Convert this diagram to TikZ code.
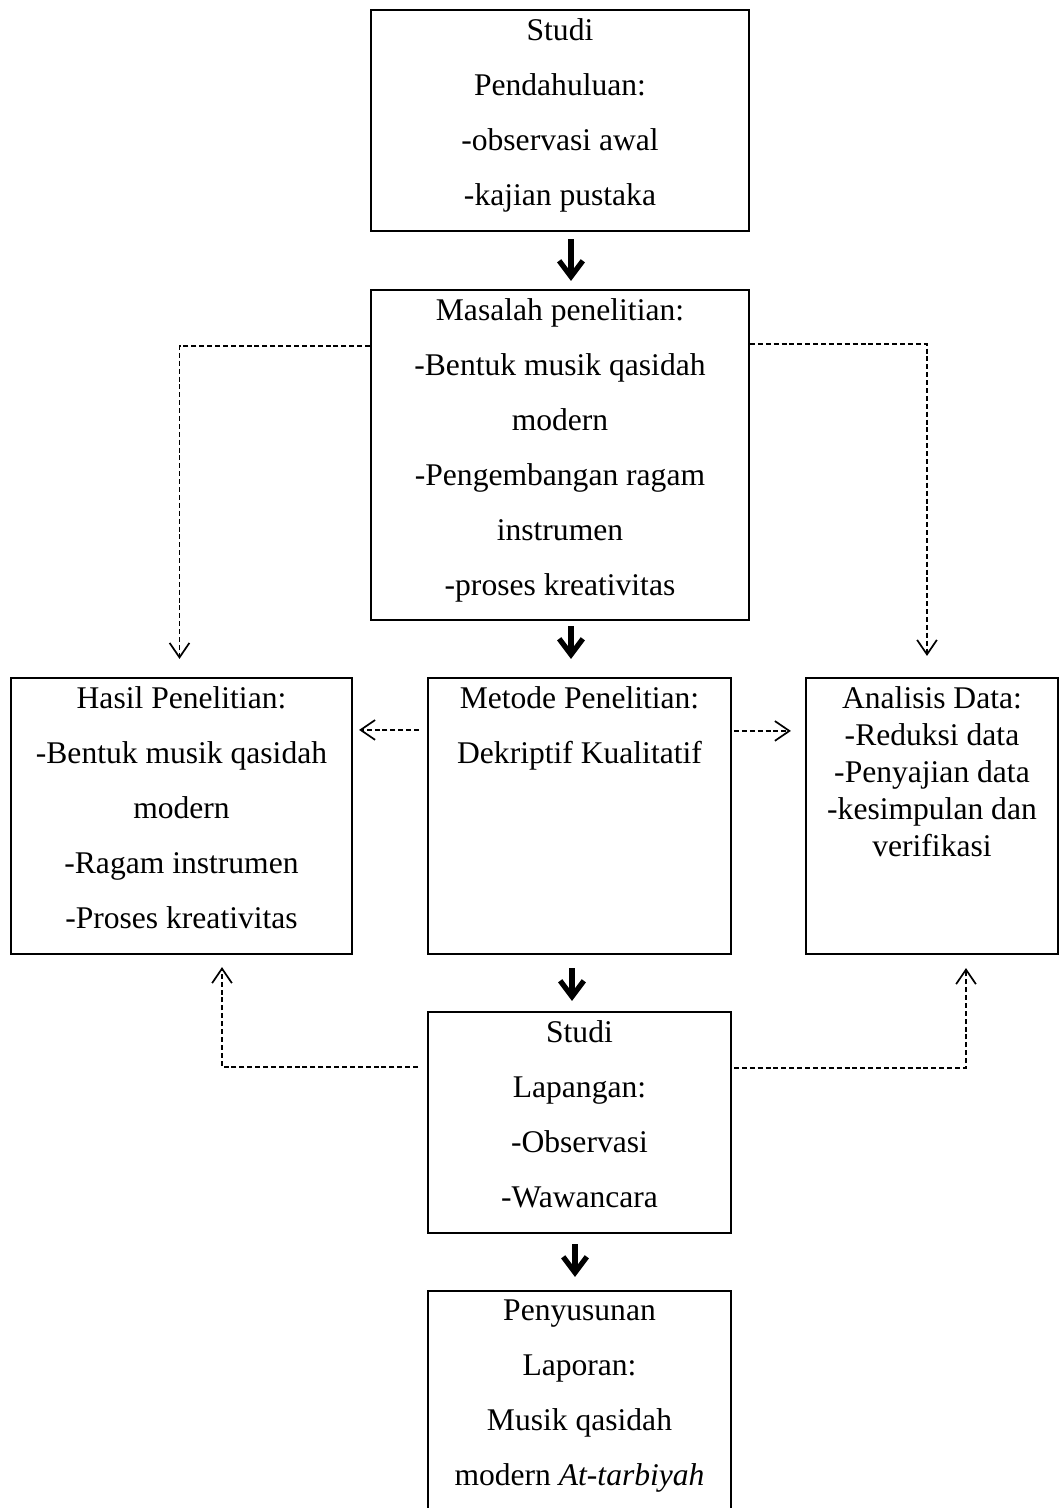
\documentclass[tikz,border=0pt]{standalone}
\usepackage{fontspec}
\setmainfont{Liberation Serif}
\usetikzlibrary{arrows.meta,positioning}
\tikzset{
    box/.style={draw, line width=0.8pt, inner sep=0pt},
    txt/.style={align=center, inner sep=0pt, font=\fontsize{12}{20.9}\selectfont},
    txtsmall/.style={align=center, inner sep=0pt, font=\fontsize{12}{14.06}\selectfont},
    bigarrow/.style={line width=2pt, -{Straight Barb[length=6pt, width=9pt]}},
    dasharrow/.style={line width=0.65pt, dash pattern=on 1.9pt off 1.1pt, -{Straight Barb[length=5.5pt, width=7.5pt]}}
}

\begin{document}
\begin{tikzpicture}[x=0.38pt, y=-0.38pt]
    \useasboundingbox (0,0) rectangle (1061,1508);

    \node (studi) at (560, 120.5) [box, minimum width=143.6pt, minimum height=84pt] {};
    \node (masalah) at (560, 455) [box, minimum width=143.6pt, minimum height=125.4pt] {};
    \node (hasil) at (181.5, 816) [box, minimum width=129.6pt, minimum height=104.9pt] {};
    \node (metode) at (579.5, 816) [box, minimum width=115.1pt, minimum height=104.9pt] {};
    \node (analisis) at (932, 816) [box, minimum width=95.8pt, minimum height=104.9pt] {};
    \node (lapangan) at (579.5, 1122.5) [box, minimum width=115.1pt, minimum height=84pt] {};
    \node (laporan) at (579.5, 1403) [box, minimum width=115.1pt, minimum height=85.1pt] {};

    \node (studi-t) [txt, below=3.4pt of studi.north] {Studi\\Pendahuluan:\\-observasi awal\\-kajian pustaka};
    \node (masalah-t) [txt, below=3.4pt of masalah.north] {Masalah penelitian:\\-Bentuk musik qasidah\\modern\\-Pengembangan ragam\\instrumen\\-proses kreativitas};
    \node (hasil-t) [txt, below=3.4pt of hasil.north] {Hasil Penelitian:\\-Bentuk musik qasidah\\modern\\-Ragam instrumen\\-Proses kreativitas};
    \node (metode-t) [txt, below=3.4pt of metode.north] {Metode Penelitian:\\Dekriptif Kualitatif};
    \node (analisis-t) [txtsmall, below=3.4pt of analisis.north] {Analisis Data:\\-Reduksi data\\-Penyajian data\\-kesimpulan dan\\verifikasi};
    \node (lapangan-t) [txt, below=3.4pt of lapangan.north] {Studi\\Lapangan:\\-Observasi\\-Wawancara};
    \node (laporan-t) [txt, below=3.4pt of laporan.north] {Penyusunan\\Laporan:\\Musik qasidah\\modern \textit{At-tarbiyah}};

    % main flow
    \draw[bigarrow] ([shift={(11,7)}]studi.south) -- ([shift={(11,-8)}]masalah.north);
    \draw[bigarrow] ([shift={(11,5)}]masalah.south) -- ([shift={(-8.5,-18)}]metode.north);
    \draw[bigarrow] ([shift={(-7.5,13)}]metode.south) -- ([shift={(-7.5,-10)}]lapangan.north);
    \draw[bigarrow] ([shift={(-4.5,10)}]lapangan.south) -- ([shift={(-4.5,-13)}]laporan.north);

    % dashed links
    \draw[dasharrow] ([shift={(0,57)}]masalah.north west) -| ([shift={(-2,-18)}]hasil.north);
    \draw[dasharrow] ([shift={(0,55)}]masalah.north east) -| ([shift={(-5,-21)}]analisis.north);
    \draw[dasharrow] ([shift={(-8,53)}]metode.north west) -- ([shift={(6,53)}]hasil.north east);
    \draw[dasharrow] ([shift={(2,54)}]metode.north east) -- ([shift={(-14,54)}]analisis.north west);
    \draw[dasharrow] ([shift={(-9,56)}]lapangan.north west) -| ([shift={(40.5,12)}]hasil.south);
    \draw[dasharrow] ([shift={(2,57)}]lapangan.north east) -| ([shift={(34,13)}]analisis.south);
\end{tikzpicture}
\end{document}
